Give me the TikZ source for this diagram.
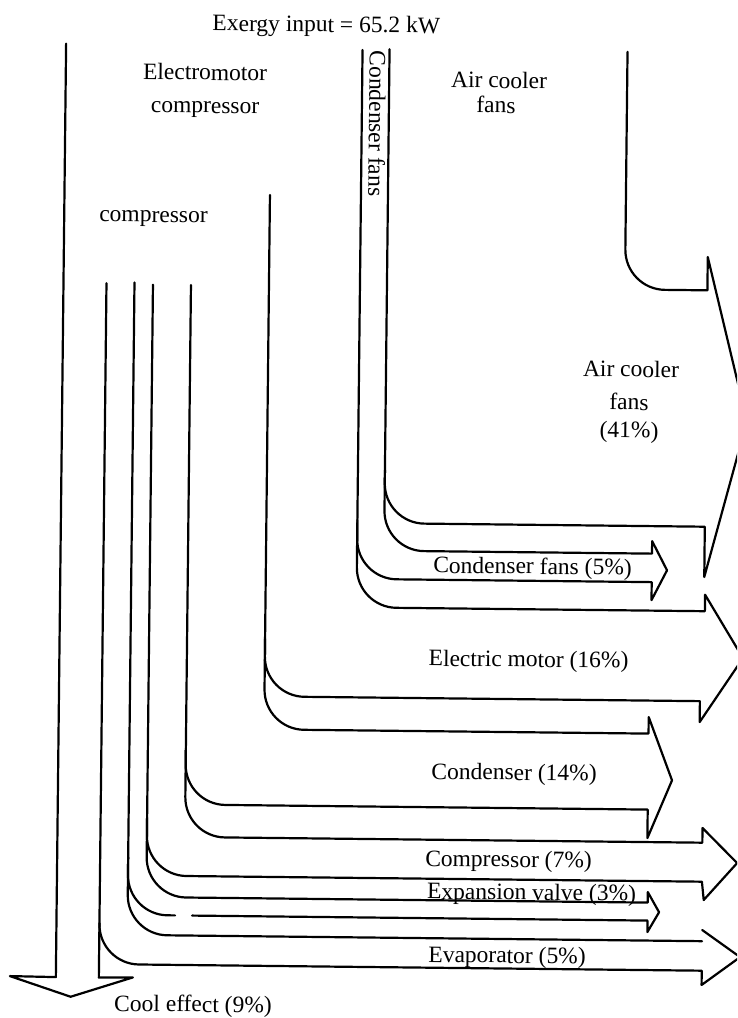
\documentclass[tikz,border=0pt]{standalone}
\usepackage{fontspec}
\setmainfont{Liberation Serif}
\tikzset{
  flow/.style={line width=2.2pt, line join=round, line cap=round},
  lbl/.style={font=\fontsize{23.5}{29}\selectfont, inner sep=0pt, anchor=base}
}
\begin{document}
\begin{tikzpicture}[x=1pt,y=-1pt]
\useasboundingbox (0,0) rectangle (737,1018);
\clip (0,0) rectangle (737,1018);
\begin{scope}[rotate around={-0.63:(368,509)}, transform shape]
% Air cooler fans (top)
\draw[flow] (622.5,49) -- (622.5,246.6) .. controls (622.5,268.7) and (640.4,286.6) .. (662.5,286.6) -- (705,286.6) -- (705,253.3) -- (746,417);
\draw[flow] (384.5,49) -- (384.5,483) .. controls (384.5,505.1) and (402.4,523) .. (424.5,523) -- (705,523) -- (705,573.3) -- (746,417);
% Condenser fans
\draw[flow] (384.5,470) -- (384.5,510.5) .. controls (384.5,532.6) and (402.4,550.5) .. (424.5,550.5) -- (652.5,550.5) -- (652.5,538) -- (667.7,567);
\draw[flow] (357.5,50) -- (357.5,539) .. controls (357.5,561.1) and (375.4,579) .. (397.5,579) -- (652.5,579) -- (652.5,597) -- (667.7,567);
% Electric motor
\draw[flow] (357.5,520) -- (357.5,567.5) .. controls (357.5,589.6) and (375.4,607.5) .. (397.5,607.5) -- (706,607.5) -- (706,591) -- (744.6,654);
\draw[flow] (266.5,196) -- (266.5,657.5) .. controls (266.5,679.6) and (284.4,697.5) .. (306.5,697.5) -- (702,697.5) -- (702,718.4) -- (744.6,654);
% Condenser
\draw[flow] (266.5,640) -- (266.5,690.5) .. controls (266.5,712.6) and (284.4,730.5) .. (306.5,730.5) -- (651,730.5) -- (651,714) -- (675,777);
\draw[flow] (188.5,287) -- (188.5,766.5) .. controls (188.5,788.6) and (206.4,806.5) .. (228.5,806.5) -- (651,806.5) -- (651,835) -- (675,777);
% Compressor
\draw[flow] (188.5,750) -- (188.5,799) .. controls (188.5,821.1) and (206.4,839) .. (228.5,839) -- (706,839) -- (706,824.3) -- (741,859);
\draw[flow] (150.5,287) -- (150.5,838) .. controls (150.5,860.1) and (168.4,878) .. (190.5,878) -- (706,878) -- (708,896.3) -- (741,859);
% Expansion valve
\draw[flow] (150.5,820) -- (150.5,859.5) .. controls (150.5,881.6) and (168.4,899.5) .. (190.5,899.5) -- (652,899.5) -- (652,889) -- (663.5,909);
\draw[flow] (132,285) -- (132,877.5) .. controls (132,899.6) and (149.9,917.5) .. (172,917.5) -- (179.5,917.5);
\draw[flow] (196.5,917.5) -- (652,917.5) -- (652,929) -- (663.5,909);
% Evaporator
\draw[flow] (132,860) -- (132,897.5) .. controls (132,919.6) and (149.9,937.5) .. (172,937.5) -- (706.8,937.5);
\draw[flow] (706.8,926.3) -- (745,953);
\draw[flow] (104,286) -- (104,927) .. controls (104,949.1) and (121.9,967) .. (144,967) -- (706.8,967) -- (706.8,981.3) -- (745,953);
% Cool effect
\draw[flow] (61,47) -- (61,980.5) -- (15,980) -- (76,1000) -- (138,980) -- (104,980.5) -- (104,926);
% Labels
\node[lbl] (exergy) at (321,32.5) {Exergy input = 65.2 kW};
\node[lbl] (em1) at (200.3,81.8) {Electromotor};
\node[lbl] (em2) at (200.7,114.8) {compressor};
\node[lbl] (comp) at (150.3,224.4) {compressor};
\node[lbl, anchor=center, rotate=-90] (cf) at (373,123.4) {Condenser fans};
\node[lbl] (ac1) at (494.4,86.6) {Air cooler};
\node[lbl] (ac2) at (491.6,111.6) {fans};
\node[lbl] (ac3) at (629.5,374.1) {Air cooler};
\node[lbl] (ac4) at (627.9,407.1) {fans};
\node[lbl] (ac5) at (628.2,435.1) {(41\%)};
\node[lbl] (cfp) at (533.2,572.2) {Condenser fans (5\%)};
\node[lbl] (emp) at (530.2,665.2) {Electric motor (16\%)};
\node[lbl] (cdp) at (517,778.4) {Condenser (14\%)};
\node[lbl] (cpp) at (512.4,865.5) {Compressor (7\%)};
\node[lbl] (evp) at (535.8,898.2) {Expansion valve (3\%)};
\node[lbl] (eap) at (512,961.5) {Evaporator (5\%)};
\node[lbl] (ce) at (198.5,1013.9) {Cool effect (9\%)};
\end{scope}
\end{tikzpicture}
\end{document}
